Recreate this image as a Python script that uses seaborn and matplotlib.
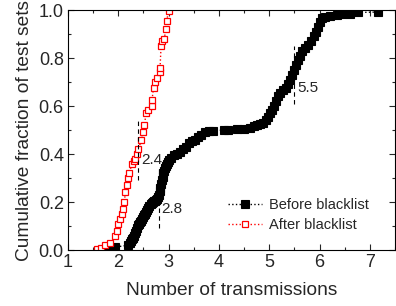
import matplotlib
matplotlib.use('Agg')
import matplotlib.pyplot as plt
import seaborn as sns
from matplotlib.ticker import MultipleLocator

# values
before_x = [1.82, 1.88, 1.93, 2.20, 2.23, 2.25, 2.27, 2.29, 2.31, 2.33, 2.35,
            2.37, 2.40, 2.42, 2.44, 2.46, 2.48, 2.50, 2.52, 2.54, 2.56, 2.58,
            2.60, 2.62, 2.64, 2.66, 2.68, 2.70, 2.72, 2.74, 2.76, 2.78, 2.80,
            2.82, 2.83, 2.85, 2.86, 2.88, 2.89, 2.91, 2.92, 2.94, 2.96, 2.98,
            3.00, 3.05, 3.10, 3.16, 3.22, 3.28, 3.34, 3.40, 3.46, 3.52, 3.58,
            3.64, 3.72, 3.80, 3.88, 4.10, 4.18, 4.35, 4.50, 4.62, 4.70, 4.76,
            4.82, 4.88, 4.93, 4.98, 5.02, 5.06, 5.10, 5.14, 5.18, 5.22, 5.28,
            5.33, 5.38, 5.42, 5.46, 5.50, 5.54, 5.58, 5.62, 5.66, 5.72, 5.78,
            5.84, 5.88, 5.92, 5.96, 6.00, 6.04, 6.10, 6.20, 6.35, 6.45, 6.60,
            6.77, 7.16]
before_y = [0.004, 0.008, 0.012, 0.020, 0.028, 0.036, 0.045, 0.052, 0.060, 0.070, 0.080,
            0.092, 0.105, 0.110, 0.115, 0.122, 0.130, 0.138, 0.146, 0.152, 0.158, 0.166,
            0.174, 0.182, 0.190, 0.195, 0.200, 0.203, 0.205, 0.208, 0.212, 0.220, 0.230,
            0.245, 0.260, 0.275, 0.290, 0.305, 0.320, 0.330, 0.340, 0.350, 0.360, 0.368,
            0.375, 0.385, 0.395, 0.400, 0.410, 0.420, 0.430, 0.445, 0.455, 0.460, 0.470,
            0.480, 0.490, 0.495, 0.497, 0.500, 0.500, 0.505, 0.505, 0.510, 0.515, 0.520,
            0.525, 0.530, 0.540, 0.555, 0.570, 0.585, 0.600, 0.620, 0.640, 0.655, 0.665,
            0.675, 0.690, 0.710, 0.730, 0.750, 0.770, 0.790, 0.810, 0.830, 0.840, 0.855,
            0.870, 0.890, 0.910, 0.930, 0.950, 0.965, 0.970, 0.975, 0.980, 0.982, 0.985,
            0.990, 0.992]

after_x = [1.58, 1.66, 1.74, 1.84, 1.94, 1.97, 2.00, 2.04, 2.08, 2.10,
           2.12, 2.14, 2.17, 2.20, 2.22, 2.27, 2.31, 2.34, 2.37, 2.40,
           2.46, 2.50, 2.52, 2.55, 2.60, 2.66, 2.67, 2.70, 2.73, 2.77,
           2.82, 2.83, 2.85, 2.87, 2.91, 2.95, 2.96, 3.00]
after_y = [0.005, 0.010, 0.020, 0.030, 0.060, 0.080, 0.110, 0.130, 0.150, 0.170,
           0.200, 0.240, 0.270, 0.300, 0.320, 0.360, 0.370, 0.380, 0.400, 0.420,
           0.460, 0.490, 0.520, 0.570, 0.585, 0.600, 0.625, 0.675, 0.700, 0.715,
           0.740, 0.760, 0.850, 0.870, 0.880, 0.920, 0.955, 0.995]

# dashed marker lines and their labels
marks_x = [2.4, 2.8, 5.5]
marks_lo = [0.29, 0.09, 0.61]
marks_hi = [0.55, 0.35, 0.85]
marks_text = ['2.4', '2.8', '5.5']
text_y = [0.375, 0.17, 0.675]

sns.set_style('ticks')
plt.rcParams['font.family'] = ['Liberation Sans', 'DejaVu Sans']
plt.rcParams['xtick.direction'] = 'in'
plt.rcParams['ytick.direction'] = 'in'

fig = plt.figure(figsize=(3.96, 3.06), dpi=100)
ax = fig.add_axes([0.1717, 0.183, 0.8258, 0.784])

sns.lineplot(x=before_x, y=before_y, ax=ax, sort=False, color='black',
             linestyle=':', linewidth=1.0, marker='s', markersize=5.5,
             markerfacecolor='black', markeredgecolor='black', markeredgewidth=0.8,
             label='Before blacklist')
sns.lineplot(x=after_x, y=after_y, ax=ax, sort=False, color='red',
             linestyle=':', linewidth=1.0, marker='s', markersize=5,
             markerfacecolor='white', markeredgecolor='red', markeredgewidth=0.9,
             label='After blacklist')

for xv, lo, hi, t, ty in zip(marks_x, marks_lo, marks_hi, marks_text, text_y):
    ax.plot([xv, xv], [lo, hi], color='black', linestyle=(0, (4, 3)), linewidth=0.8)
    ax.text(xv + 0.06, ty, t, fontsize=11, va='center', ha='left')

ax.set_xlim(1, 7.5)
ax.set_ylim(0, 1.0)
ax.xaxis.set_major_locator(MultipleLocator(1))
ax.xaxis.set_minor_locator(MultipleLocator(0.5))
ax.yaxis.set_major_locator(MultipleLocator(0.2))
ax.yaxis.set_minor_locator(MultipleLocator(0.1))
ax.yaxis.set_major_formatter(matplotlib.ticker.FormatStrFormatter('%.1f'))
ax.tick_params(which='both', top=True, right=True, labelsize=13, width=0.8)
ax.tick_params(which='major', length=4, pad=3)
ax.tick_params(which='minor', length=2.5)
for s in ax.spines.values():
    s.set_linewidth(0.8)
    s.set_color('black')

ax.set_xlabel('Number of transmissions', fontsize=13.8, labelpad=8)
ax.set_ylabel('Cumulative fraction of test sets', fontsize=13.8, labelpad=4)

ax.legend(loc='lower right', bbox_to_anchor=(0.96, 0.02), frameon=False,
          fontsize=10.5, handlelength=2.3, handletextpad=0.5, labelspacing=0.4,
          numpoints=1)

fig.savefig('out.png', dpi=100)
